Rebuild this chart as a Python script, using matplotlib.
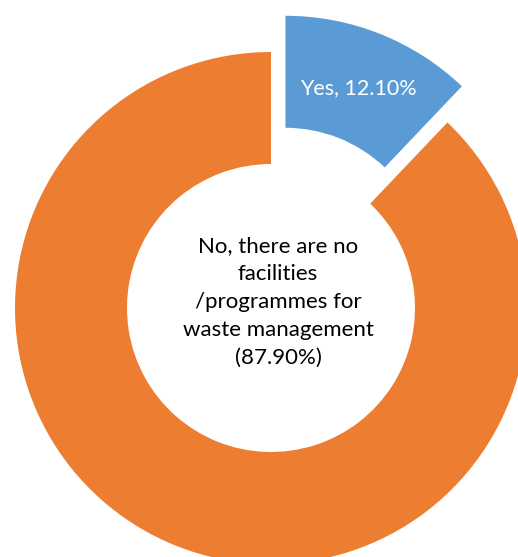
import matplotlib.pyplot as plt

# data
labels = ['Yes', 'No, there are no facilities /programmes for waste management']
shares = [12.10, 87.90]
colors = ['#5B9BD5', '#ED7D31']

fig = plt.figure(figsize=(5.18, 5.57), dpi=100)
ax = fig.add_axes([0, 0, 1, 1])

r = 256
ax.pie(shares, radius=r, startangle=90, counterclock=False, colors=colors,
       explode=[39, 0], wedgeprops=dict(width=112, linewidth=0))

ax.text(87, 220, 'Yes, %.2f%%' % shares[0], color='white', ha='center', va='center',
        fontsize=15.5, family='Lato')
ax.text(7, 6, 'No, there are no\nfacilities\n/programmes for\nwaste management\n(%.2f%%)' % shares[1],
        color='black', ha='center', va='center', fontsize=16, family='Lato',
        linespacing=1.5)

ax.set_xlim(-271, 247)
ax.set_ylim(-249, 308)
ax.set_aspect('equal')
ax.axis('off')

fig.savefig('out.png', dpi=100)
